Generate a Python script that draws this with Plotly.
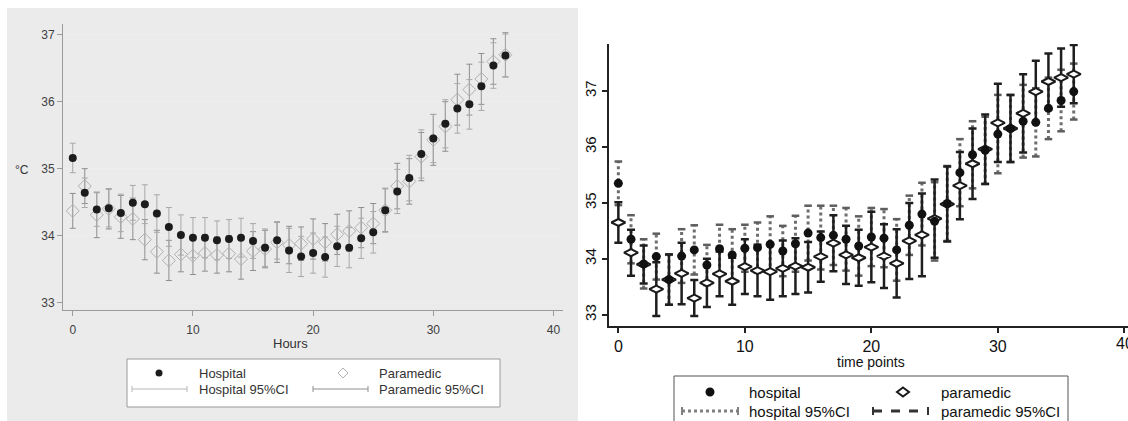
import plotly.graph_objects as go

W, H = 1128, 421

# ---------------- data ----------------
time_points = list(range(37))
x_ticks = [0, 10, 20, 30, 40]
y_ticks = [33, 34, 35, 36, 37]

# left panel (Hours)
hosp_L = [35.16, 34.64, 34.39, 34.41, 34.34, 34.49, 34.47, 34.33, 34.13, 34.01,
          33.97, 33.97, 33.93, 33.95, 33.97, 33.92, 33.82, 33.93, 33.78, 33.69,
          33.74, 33.68, 33.84, 33.82, 33.96, 34.05, 34.38, 34.66, 34.86, 35.22,
          35.45, 35.67, 35.90, 35.96, 36.23, 36.54, 36.69]
para_L = [34.37, 34.74, 34.31, 34.40, 34.28, 34.25, 33.94, 33.76, 33.63, 33.72,
          33.70, 33.74, 33.71, 33.73, 33.65, 33.77, 33.80, 33.90, 33.86, 33.88,
          33.95, 33.90, 34.02, 34.07, 34.12, 34.18, 34.38, 34.74, 34.81, 35.18,
          35.43, 35.63, 36.03, 36.18, 36.34, 36.60, 36.70]
hosp_L_ci = [0.22, 0.22, 0.25, 0.28, 0.28, 0.26, 0.29, 0.28, 0.29, 0.30,
             0.30, 0.30, 0.29, 0.29, 0.29, 0.26, 0.28, 0.28, 0.33, 0.30,
             0.30, 0.30, 0.30, 0.30, 0.30, 0.31, 0.33, 0.33, 0.34, 0.36,
             0.36, 0.36, 0.37, 0.37, 0.36, 0.34, 0.32]
para_L_ci = [0.26, 0.26, 0.34, 0.30, 0.32, 0.31, 0.30, 0.32, 0.30, 0.26,
             0.28, 0.27, 0.27, 0.27, 0.30, 0.29, 0.28, 0.30, 0.28, 0.25,
             0.30, 0.28, 0.30, 0.30, 0.30, 0.30, 0.32, 0.34, 0.34, 0.36,
             0.38, 0.37, 0.38, 0.38, 0.38, 0.34, 0.33]

# right panel (time points)
hosp_R = [35.35, 34.35, 33.91, 34.04, 33.63, 34.05, 34.16, 33.89, 34.18, 34.07,
          34.19, 34.20, 34.26, 34.14, 34.27, 34.46, 34.38, 34.42, 34.35, 34.23,
          34.39, 34.37, 34.16, 34.60, 34.80, 34.67, 34.99, 35.54, 35.86, 35.94,
          36.23, 36.33, 36.46, 36.44, 36.69, 36.83, 36.99]
para_R = [34.65, 34.11, 33.90, 33.46, 33.63, 33.74, 33.30, 33.57, 33.73, 33.60,
          33.86, 33.79, 33.77, 33.83, 33.87, 33.85, 34.04, 34.28, 34.07, 34.02,
          34.21, 34.05, 33.92, 34.32, 34.43, 34.72, 34.98, 35.31, 35.70, 35.96,
          36.43, 36.33, 36.60, 36.99, 37.17, 37.24, 37.30]
hosp_R_ci = [0.39, 0.43, 0.44, 0.41, 0.45, 0.48, 0.44, 0.36, 0.43, 0.46,
             0.42, 0.45, 0.50, 0.45, 0.50, 0.49, 0.57, 0.53, 0.56, 0.53,
             0.52, 0.52, 0.55, 0.53, 0.56, 0.70, 0.67, 0.60, 0.60, 0.60,
             0.70, 0.60, 0.65, 0.61, 0.55, 0.55, 0.50]
para_R_ci = [0.36, 0.41, 0.34, 0.48, 0.45, 0.55, 0.32, 0.43, 0.40, 0.42,
             0.49, 0.46, 0.50, 0.50, 0.50, 0.45, 0.45, 0.50, 0.52, 0.50,
             0.63, 0.57, 0.61, 0.68, 0.74, 0.70, 0.67, 0.60, 0.63, 0.62,
             0.70, 0.60, 0.70, 0.55, 0.50, 0.52, 0.52]

# ---------------- helpers (pixel -> paper) ----------------
def px(x):
    return x / W


def py(y):
    return 1 - y / H


FONT = "Liberation Sans, Arial, sans-serif"

fig = go.Figure()

# ---------- left panel ----------
fig.add_trace(go.Scatter(
    x=time_points, y=para_L, mode="markers", xaxis="x", yaxis="y",
    marker=dict(symbol="diamond-open", size=10, color="#b0b0b0", line=dict(width=1)),
    error_y=dict(type="data", array=para_L_ci, color="#8e8e8e", thickness=1, width=3),
    showlegend=False, cliponaxis=False))
fig.add_trace(go.Scatter(
    x=time_points, y=hosp_L, mode="markers", xaxis="x", yaxis="y",
    marker=dict(symbol="circle", size=8, color="#1c1c1c"),
    error_y=dict(type="data", array=hosp_L_ci, color="#a8a8a8", thickness=1, width=3),
    showlegend=False, cliponaxis=False))

# ---------- right panel ----------
cap = 0.3
ci_x, ci_y, cap_x, cap_y = [], [], [], []
for t, v, e in zip(time_points, hosp_R, hosp_R_ci):
    ci_x += [t, t, None]
    ci_y += [v - e, v + e, None]
    cap_x += [t - cap, t + cap, None, t - cap, t + cap, None]
    cap_y += [v - e, v - e, None, v + e, v + e, None]
fig.add_trace(go.Scatter(x=ci_x, y=ci_y, mode="lines", xaxis="x2", yaxis="y2",
                         line=dict(color="#6e6e6e", width=3, dash="dot"),
                         showlegend=False, hoverinfo="skip"))
fig.add_trace(go.Scatter(x=cap_x, y=cap_y, mode="lines", xaxis="x2", yaxis="y2",
                         line=dict(color="#5e5e5e", width=2.5),
                         showlegend=False, hoverinfo="skip"))
fig.add_trace(go.Scatter(
    x=time_points, y=para_R, mode="markers", xaxis="x2", yaxis="y2",
    marker=dict(symbol="diamond-wide", size=10, color="white",
                line=dict(color="#1a1a1a", width=2)),
    error_y=dict(type="data", array=para_R_ci, color="#1e1e1e", thickness=2.5, width=4),
    showlegend=False))
fig.add_trace(go.Scatter(
    x=time_points, y=hosp_R, mode="markers", xaxis="x2", yaxis="y2",
    marker=dict(symbol="circle", size=9, color="#111111"),
    showlegend=False))

# ---------- axes ----------
left_tick_font = dict(family=FONT, size=12, color="#404040")
right_tick_font = dict(family=FONT, size=16, color="#111111")

fig.update_layout(
    width=W, height=H,
    margin=dict(l=0, r=0, t=0, b=0),
    paper_bgcolor="white", plot_bgcolor="white",
    xaxis=dict(domain=[px(63), px(563)], range=[-0.81, 40.79], anchor="y",
               tickvals=x_ticks, ticks="outside", ticklen=5, tickcolor="#9a9a9a",
               showline=True, linecolor="#9a9a9a", linewidth=1,
               showgrid=False, zeroline=False, tickfont=left_tick_font,
               ticklabelstandoff=4),
    yaxis=dict(domain=[py(310), py(24)], range=[32.89, 37.16], anchor="x",
               tickvals=y_ticks, ticks="outside", ticklen=5, tickcolor="#9a9a9a",
               showline=True, linecolor="#9a9a9a", linewidth=1,
               showgrid=True, gridcolor="#eeeeee", zeroline=False,
               tickfont=left_tick_font),
    xaxis2=dict(domain=[px(609), 1.0], range=[-0.74, 40.29], anchor="y2",
                tickvals=x_ticks, ticks="outside", ticklen=5, tickwidth=1.5,
                tickcolor="#222222", showline=True, linecolor="#222222", linewidth=2,
                showgrid=False, zeroline=False, tickfont=right_tick_font),
    yaxis2=dict(domain=[py(326), py(44)], range=[32.80, 37.84], anchor="x2",
                tickvals=y_ticks, ticks="outside", ticklen=5, tickwidth=1.5,
                tickcolor="#222222", showline=True, linecolor="#222222", linewidth=2,
                showgrid=False, zeroline=False, tickangle=-90,
                tickfont=dict(family=FONT, size=15, color="#111111")),
)

# ---------- shapes: backgrounds and legends ----------
shapes = []
shapes.append(dict(type="rect", xref="paper", yref="paper", layer="below",
                   x0=px(7), x1=px(578), y0=py(421), y1=py(8),
                   fillcolor="#ebebeb", line=dict(width=0)))

# left legend
shapes.append(dict(type="rect", xref="paper", yref="paper",
                   x0=px(127), x1=px(500), y0=py(407), y1=py(359),
                   fillcolor="white", line=dict(color="#9a9a9a", width=1)))
shapes.append(dict(type="circle", xref="paper", yref="paper",
                   x0=px(159 - 3.5), x1=px(159 + 3.5), y0=py(373 + 3.5), y1=py(373 - 3.5),
                   fillcolor="#1c1c1c", line=dict(width=0)))
dx, dy = 343, 373
shapes.append(dict(type="path", xref="paper", yref="paper",
                   path=f"M {px(dx)},{py(dy-5)} L {px(dx+5)},{py(dy)} L {px(dx)},{py(dy+5)} L {px(dx-5)},{py(dy)} Z",
                   line=dict(color="#b0b0b0", width=1)))
for (x0, x1, col) in [(132, 187, "#b8b8b8"), (313, 368, "#8e8e8e")]:
    yy = 389
    shapes.append(dict(type="line", xref="paper", yref="paper",
                       x0=px(x0), x1=px(x1), y0=py(yy), y1=py(yy), line=dict(color=col, width=1)))
    for xc in (x0, x1):
        shapes.append(dict(type="line", xref="paper", yref="paper",
                           x0=px(xc), x1=px(xc), y0=py(yy - 3), y1=py(yy + 3), line=dict(color=col, width=1)))

# right legend
shapes.append(dict(type="rect", xref="paper", yref="paper",
                   x0=px(674), x1=px(1068), y0=py(440), y1=py(376),
                   fillcolor="white", line=dict(color="#555555", width=1)))
shapes.append(dict(type="circle", xref="paper", yref="paper",
                   x0=px(710 - 4.5), x1=px(710 + 4.5), y0=py(392 + 4.5), y1=py(392 - 4.5),
                   fillcolor="#111111", line=dict(width=0)))
dx, dy = 903, 392
shapes.append(dict(type="path", xref="paper", yref="paper",
                   path=f"M {px(dx)},{py(dy-4.5)} L {px(dx+6)},{py(dy)} L {px(dx)},{py(dy+4.5)} L {px(dx-6)},{py(dy)} Z",
                   fillcolor="white", line=dict(color="#1a1a1a", width=2)))
for (x0, x1, col, dash) in [(682, 738, "#808080", "dot"), (873, 928, "#333333", "dash")]:
    yy = 411
    shapes.append(dict(type="line", xref="paper", yref="paper",
                       x0=px(x0), x1=px(x1), y0=py(yy), y1=py(yy),
                       line=dict(color=col, width=3, dash=dash)))
    for xc in (x0, x1):
        shapes.append(dict(type="line", xref="paper", yref="paper",
                           x0=px(xc), x1=px(xc), y0=py(yy - 4), y1=py(yy + 4),
                           line=dict(color=col, width=2)))
fig.update_layout(shapes=shapes)

# ---------- text ----------
def label(text, x, y, size, color, anchor="left"):
    fig.add_annotation(text=text, xref="paper", yref="paper", x=px(x), y=py(y),
                       xanchor=anchor, yanchor="middle", showarrow=False,
                       font=dict(family=FONT, size=size, color=color))


label("°C", 22, 170, 12, "#333333", "center")
label("Hours", 290, 343, 13, "#333333", "center")
label("Hospital", 197, 373, 13, "#333333")
label("Paramedic", 377, 373, 13, "#333333")
label("Hospital 95%CI", 197, 389, 13, "#333333")
label("Paramedic 95%CI", 377, 389, 13, "#333333")

label("time points", 871, 362, 14, "#111111", "center")
label("40", 1125, 343, 16, "#111111", "center")  # right-panel tick label cut at the edge
label("hospital", 747, 392, 15, "#111111")
label("paramedic", 939, 392, 15, "#111111")
label("hospital 95%CI", 747, 411, 15, "#111111")
label("paramedic 95%CI", 939, 411, 15, "#111111")

fig.write_html("out.html", config={"displayModeBar": False},
               post_script="document.body.style.margin='0px';document.body.style.overflow='hidden';")
